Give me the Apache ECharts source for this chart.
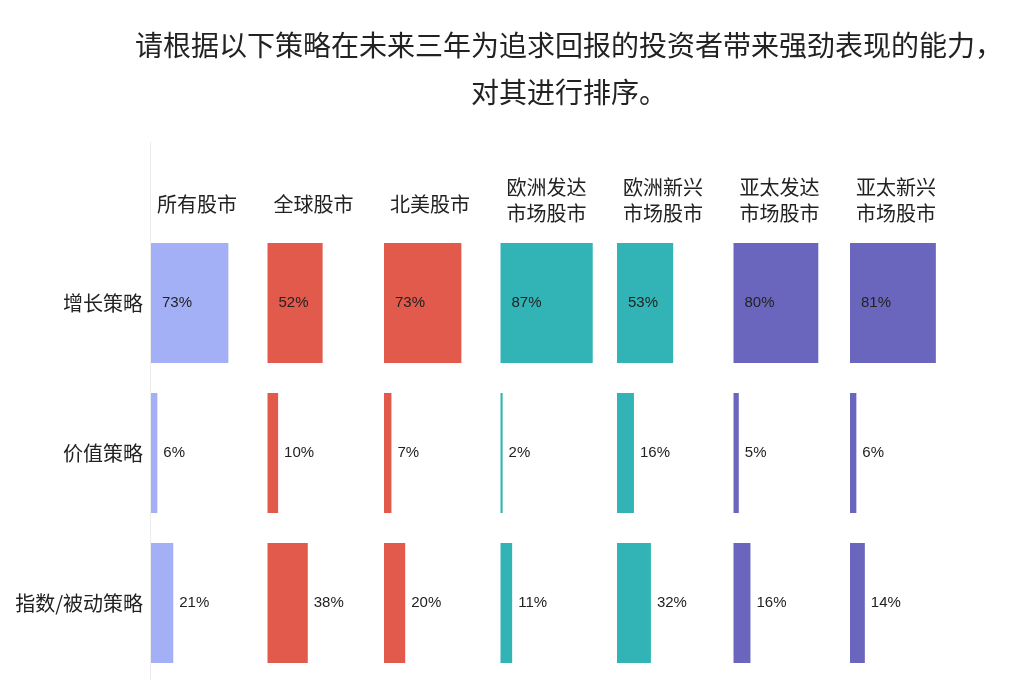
<!DOCTYPE html>
<html>
<head>
<meta charset="utf-8">
<script src="https://cdn.jsdelivr.net/npm/echarts@6/dist/echarts.min.js"></script>
<style>
html,body{margin:0;padding:0;background:#fff;}
#c{width:1024px;height:696px;}
</style>
</head>
<body>
<div id="c"></div>
<script>
const titleText = "请根据以下策略在未来三年为追求回报的投资者带来强劲表现的能力，\n对其进行排序。";
const markets = ["所有股市", "全球股市", "北美股市", "欧洲发达\n市场股市", "欧洲新兴\n市场股市", "亚太发达\n市场股市", "亚太新兴\n市场股市"];
const strategies = ["增长策略", "价值策略", "指数/被动策略"];
const growth  = [73, 52, 73, 87, 53, 80, 81];
const value   = [6, 10, 7, 2, 16, 5, 6];
const passive = [21, 38, 20, 11, 32, 16, 14];
const colors = ["#A4B0F5", "#E15A4C", "#E15A4C", "#32B4B7", "#32B4B7", "#6A66BE", "#6A66BE"];

const FONT = '"Noto Sans CJK SC", "Noto Sans", sans-serif';
const grids = [], xAxes = [], yAxes = [], series = [];
const titles = [];
const colLeft = 151, colStep = 116.5, gridTop = 228, gridH = 450, gridW = 106;

titles.push({
  text: titleText, left: 569, top: 22, textAlign: 'center', padding: 0,
  textStyle: { fontFamily: FONT, fontSize: 28, fontWeight: 'normal', color: '#222', lineHeight: 47, align: 'center' }
});

markets.forEach((m, i) => {
  const nLines = m.split('\n').length;
  titles.push({
    text: m, left: colLeft + i * colStep + 6, top: nLines > 1 ? 174 : 191, padding: 0,
    textStyle: { fontFamily: FONT, fontSize: 20, fontWeight: 'normal', color: '#222', lineHeight: 26 }
  });
  grids.push({ left: colLeft + i * colStep, top: gridTop, width: gridW, height: gridH, containLabel: false });
  xAxes.push({
    type: 'value', gridIndex: i, min: 0, max: 100,
    axisLine: { show: false }, axisTick: { show: false }, axisLabel: { show: false }, splitLine: { show: false }
  });
  yAxes.push({
    type: 'category', gridIndex: i, data: strategies, inverse: true,
    axisLine: { show: false }, axisTick: { show: false },
    axisLabel: { show: i === 0, fontFamily: FONT, fontSize: 20, color: '#222', margin: 8 },
    splitLine: { show: false }
  });
  const vals = [growth[i], value[i], passive[i]];
  series.push({
    type: 'bar', xAxisIndex: i, yAxisIndex: i, barWidth: 120, silent: true,
    itemStyle: { color: colors[i] },
    data: vals.map(v => ({
      value: v,
      label: {
        show: true,
        position: v >= 50 ? 'insideLeft' : 'right',
        distance: v >= 50 ? 11 : 6,
        formatter: '{c}%',
        fontFamily: '"Liberation Sans", Arial, sans-serif',
        fontSize: 15, color: '#222'
      }
    }))
  });
});

const chart = echarts.init(document.getElementById('c'), null, { renderer: 'canvas' });
chart.setOption({
  backgroundColor: '#fff',
  animation: false,
  title: titles,
  grid: grids, xAxis: xAxes, yAxis: yAxes, series: series,
  graphic: [{
    type: 'line', silent: true,
    shape: { x1: 150.5, y1: 142, x2: 150.5, y2: 680 },
    style: { stroke: '#ececec', lineWidth: 1 }
  }]
});
</script>
</body>
</html>
